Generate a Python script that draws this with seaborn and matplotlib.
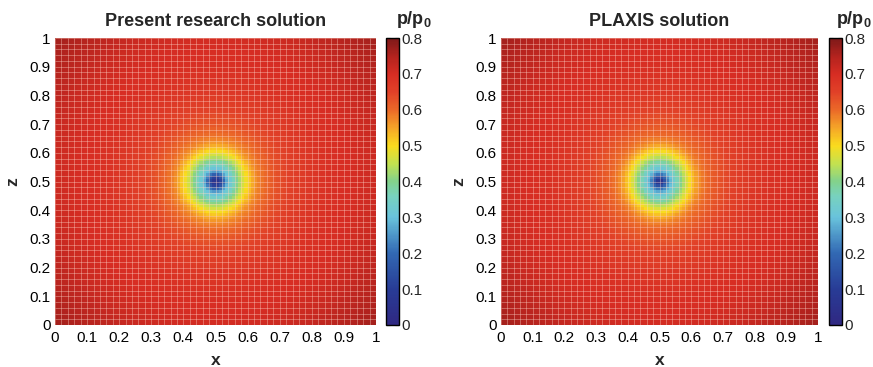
import numpy as np
import matplotlib
matplotlib.use("Agg")
import matplotlib.pyplot as plt
from matplotlib.colors import LinearSegmentedColormap
import seaborn as sns

sns.set_style("white")
plt.rcParams["font.family"] = ["Liberation Sans", "DejaVu Sans"]
plt.rcParams["mathtext.fontset"] = "custom"
plt.rcParams["mathtext.rm"] = "Liberation Sans"
plt.rcParams["mathtext.bf"] = "Liberation Sans:bold"

# Radial pressure profiles p/p0 measured along x from the drain at (0.5, 0.5)
radius = [0.0, 0.01, 0.02, 0.03, 0.04, 0.053, 0.07, 0.085, 0.10, 0.115,
          0.13, 0.155, 0.19, 0.23, 0.28, 0.35, 0.42, 0.50, 0.60, 0.75]
p_present = [0.05, 0.08, 0.15, 0.24, 0.30, 0.35, 0.41, 0.46, 0.505, 0.545,
             0.575, 0.60, 0.63, 0.65, 0.67, 0.69, 0.70, 0.715, 0.745, 0.785]
p_plaxis = [0.03, 0.10, 0.19, 0.26, 0.31, 0.355, 0.415, 0.465, 0.51, 0.55,
            0.58, 0.605, 0.63, 0.65, 0.67, 0.69, 0.70, 0.715, 0.745, 0.785]
# the pressure bulb is stretched slightly along z
z_stretch = 1.1

titles = ["Present research solution", "PLAXIS solution"]
tick_vals = [0, 0.1, 0.2, 0.3, 0.4, 0.5, 0.6, 0.7, 0.8, 0.9, 1]
tick_labels = ["0", "0.1", "0.2", "0.3", "0.4", "0.5", "0.6", "0.7", "0.8", "0.9", "1"]
cbar_ticks = [0, 0.1, 0.2, 0.3, 0.4, 0.5, 0.6, 0.7, 0.8]
cbar_labels = ["0", "0.1", "0.2", "0.3", "0.4", "0.5", "0.6", "0.7", "0.8"]

n_cells = 100
centres = (np.arange(n_cells) + 0.5) / n_cells
X, Z = np.meshgrid(centres, centres)
R = np.hypot(X - 0.5, (Z - 0.5) / z_stretch)
fields = [np.interp(R, radius, p_present), np.interp(R, radius, p_plaxis)]

jet_like = [
    (0.0, (48, 40, 130)), (0.125, (40, 60, 150)), (0.25, (50, 105, 180)),
    (0.375, (105, 195, 220)), (0.45, (120, 210, 190)), (0.5, (130, 210, 140)),
    (0.5625, (195, 225, 80)), (0.625, (250, 220, 30)), (0.6875, (245, 165, 40)),
    (0.75, (235, 105, 40)), (0.8125, (225, 65, 40)), (0.875, (215, 45, 35)),
    (0.9375, (180, 35, 30)), (1.0, (125, 25, 25)),
]
cmap = LinearSegmentedColormap.from_list(
    "pjet", [(s, tuple(c / 255 for c in rgb)) for s, rgb in jet_like])

W, H = 873, 367
fig = plt.figure(figsize=(W / 100, H / 100), dpi=100)

layout = [
    dict(ax=(55, 38, 376, 325), cax=(386, 399), lab=(414, 19)),
    dict(ax=(501, 38, 818, 325), cax=(829, 842), lab=(854, 19)),
]

for field, title, lay in zip(fields, titles, layout):
    x0, y0, x1, y1 = lay["ax"]
    ax = fig.add_axes([x0 / W, 1 - y1 / H, (x1 - x0) / W, (y1 - y0) / H])
    c0, c1 = lay["cax"]
    cax = fig.add_axes([c0 / W, 1 - y1 / H, (c1 - c0) / W, (y1 - y0) / H])

    sns.heatmap(field, ax=ax, cbar_ax=cax, cmap=cmap, vmin=0, vmax=0.8,
                xticklabels=False, yticklabels=False, rasterized=True)
    ax.set_ylim(0, n_cells)
    ax.set_xlim(0, n_cells)

    # element mesh
    mesh = np.arange(0, n_cells + 1, 2)
    ax.vlines(mesh, 0, n_cells, colors=(1, 0.85, 0.8, 0.38), linewidth=0.7)
    ax.hlines(mesh, 0, n_cells, colors=(1, 0.85, 0.8, 0.38), linewidth=0.7)

    pos = [v * n_cells for v in tick_vals]
    ax.set_xticks(pos)
    ax.set_xticklabels(tick_labels, rotation=0)
    ax.set_yticks(pos)
    ax.set_yticklabels(tick_labels, rotation=0)
    ax.tick_params(direction="in", length=3, width=0.6, labelsize=11,
                   pad=3, colors="black")
    ax.tick_params(axis="x", pad=4)
    ax.set_xlabel("x", fontsize=12.5, fontweight="bold", labelpad=6)
    ax.set_ylabel("z", fontsize=12.5, fontweight="bold", labelpad=7)
    ax.set_title(title, fontsize=13, fontweight="bold", pad=9)

    cb = ax.collections[0].colorbar
    cb.set_ticks(cbar_ticks)
    cb.set_ticklabels(cbar_labels)
    cb.outline.set_edgecolor("black")
    cb.outline.set_linewidth(1.0)
    cax.yaxis.set_ticks_position("both")
    cax.tick_params(direction="in", length=3, width=0.8, labelsize=11,
                    labelleft=False, labelright=True, pad=2)

    lx, ly = lay["lab"]
    fig.text(lx / W, 1 - ly / H, r"$\mathbf{p/p}_\mathbf{0}$", fontsize=13,
             ha="center", va="center")

fig.savefig("out.png", dpi=100)
